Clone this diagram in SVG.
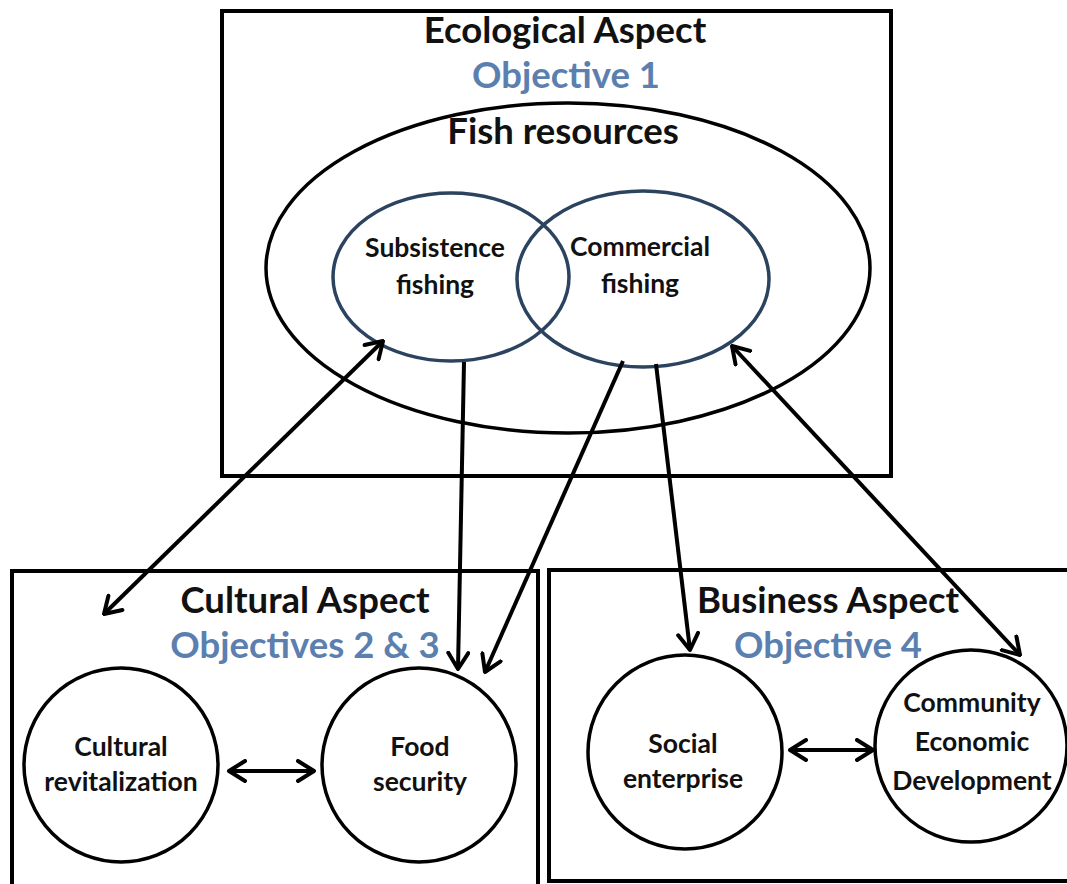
<svg xmlns="http://www.w3.org/2000/svg" width="1067" height="884" viewBox="0 0 1067 884">
<style>
.box{fill:none;stroke:#000;stroke-width:4}
.ell{fill:none;stroke:#000;stroke-width:3.5}
.venn{fill:none;stroke:#2c4360;stroke-width:3.5}
.node{fill:none;stroke:#000;stroke-width:3.5}
.t{font-family:Lato,"Open Sans","Liberation Sans",sans-serif;font-weight:bold;fill:#111;text-anchor:middle}
.h{font-size:36.5px}
.o{font-size:36.5px;fill:#5b80af}
.s{font-size:26.5px}
.c{fill:none;stroke:#000;stroke-width:4}
</style>
<defs>
<marker id="ah" markerUnits="userSpaceOnUse" viewBox="0 0 20 24" markerWidth="20" markerHeight="24" refX="18" refY="12" orient="auto-start-reverse">
<path d="M2,2 L18,12 L2,22" fill="none" stroke="#000" stroke-width="4" stroke-linecap="round" stroke-linejoin="round"/>
</marker>
</defs>
<rect width="1067" height="884" fill="#fff"/>
<g id="ecological">
<rect class="box" x="222" y="11" width="669" height="465"/>
<text class="t h" x="565" y="43">Ecological Aspect</text>
<text class="t o" x="566" y="88">Objective 1</text>
</g>
<g id="fish-resources">
<ellipse class="ell" cx="568" cy="268" rx="302" ry="165"/>
<text class="t h" x="563" y="144">Fish resources</text>
</g>
<g id="subsistence">
<ellipse class="venn" cx="451" cy="277" rx="118" ry="84"/>
<text class="t s" x="435" y="257">Subsistence</text>
<text class="t s" x="435" y="294">fishing</text>
</g>
<g id="commercial">
<ellipse class="venn" cx="643" cy="279" rx="126" ry="88"/>
<text class="t s" x="640" y="256">Commercial</text>
<text class="t s" x="640" y="293">fishing</text>
</g>
<g id="cultural">
<rect class="box" x="12" y="571" width="526" height="320"/>
<text class="t h" x="305" y="613">Cultural Aspect</text>
<text class="t o" x="305" y="658">Objectives 2 &amp; 3</text>
</g>
<g id="business">
<rect class="box" x="549" y="570" width="530" height="311"/>
<text class="t h" x="828" y="613">Business Aspect</text>
<text class="t o" x="828" y="658">Objective 4</text>
</g>
<g id="cultural-revitalization">
<circle class="node" cx="121" cy="765" r="97"/>
<text class="t s" x="121" y="756">Cultural</text>
<text class="t s" x="121" y="791">revitalization</text>
</g>
<g id="food-security">
<circle class="node" cx="419" cy="765" r="97"/>
<text class="t s" x="420" y="756">Food</text>
<text class="t s" x="420" y="791">security</text>
</g>
<g id="social-enterprise">
<circle class="node" cx="685" cy="752" r="97"/>
<text class="t s" x="683" y="753">Social</text>
<text class="t s" x="683" y="788">enterprise</text>
</g>
<g id="community-economic-development">
<circle class="node" cx="971" cy="746" r="96"/>
<text class="t s" x="972" y="712">Community</text>
<text class="t s" x="972" y="751">Economic</text>
<text class="t s" x="972" y="790">Development</text>
</g>
<g id="connectors">
<line class="c" x1="383" y1="341" x2="104" y2="614" marker-start="url(#ah)" marker-end="url(#ah)"/>
<line class="c" x1="464" y1="362" x2="458" y2="669" marker-end="url(#ah)"/>
<line class="c" x1="623" y1="361" x2="485" y2="672" marker-end="url(#ah)"/>
<line class="c" x1="656" y1="364" x2="690" y2="650" marker-end="url(#ah)"/>
<line class="c" x1="732" y1="346" x2="1020" y2="655" marker-start="url(#ah)" marker-end="url(#ah)"/>
<line class="c" x1="229" y1="771" x2="314" y2="771" marker-start="url(#ah)" marker-end="url(#ah)"/>
<line class="c" x1="790" y1="750" x2="873" y2="750" marker-start="url(#ah)" marker-end="url(#ah)"/>
</g>
</svg>
